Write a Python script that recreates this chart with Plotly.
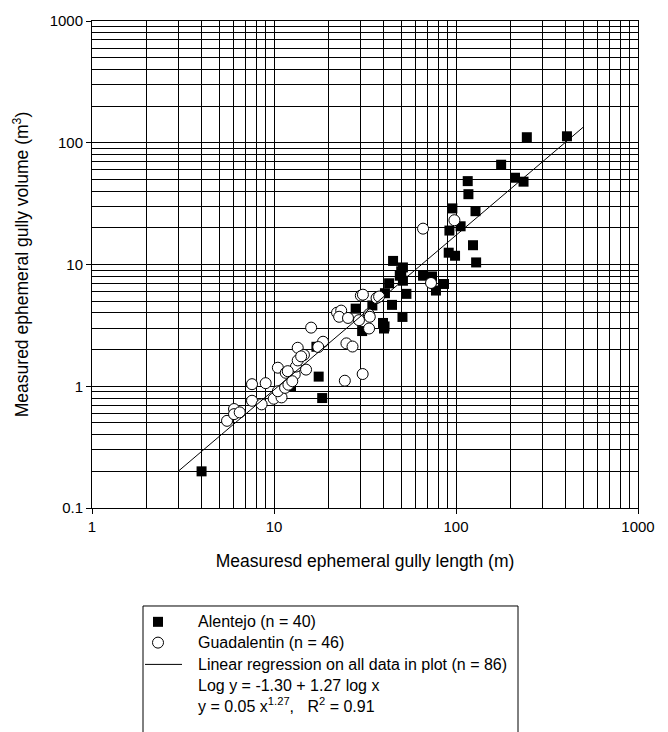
import numpy as np
import plotly.graph_objects as go

# Alentejo (n = 40): gully length (m), gully volume (m3)
ale_len = [4.0, 17.1, 17.6, 18.4, 12.4, 28.1, 30.5, 34.7, 39.7, 40.2,
           40.5, 40.7, 42.9, 44.5, 45.1, 49.1, 50.0, 50.8, 51.1, 51.1,
           53.4, 65.9, 73.8, 77.6, 85.9, 91.2, 92.0, 95.5, 98.8, 106,
           116, 117, 124, 128, 129, 177, 211, 235, 245, 407]
ale_vol = [0.20, 2.11, 1.20, 0.80, 1.00, 4.34, 2.84, 4.61, 3.31, 2.98,
           3.10, 5.81, 7.01, 4.66, 10.7, 8.09, 8.80, 3.71, 9.46, 7.36,
           5.74, 8.09, 7.98, 6.11, 6.92, 12.5, 19.0, 28.9, 11.8, 20.6,
           48.4, 37.8, 14.4, 27.4, 10.4, 66, 51.6, 47.9, 111, 113]

# Guadalentin (n = 46)
gua_len = [5.52, 6.03, 6.03, 6.48, 7.57, 7.57, 8.55, 9.0, 9.96, 11.0,
           10.5, 11.5, 12.0, 10.5, 11.6, 13.0, 13.2, 13.5, 13.5, 14.6,
           15.0, 16.0, 18.6, 17.5, 22.2, 23.4, 22.8, 25.5, 29.3, 33.2,
           33.6, 33.3, 30.0, 30.8, 36.6, 37.8, 25.0, 27.0, 30.7, 24.5,
           72.9, 65.9, 98.0, 11.9, 14.1, 12.6]
gua_vol = [0.52, 0.65, 0.59, 0.61, 1.04, 0.76, 0.71, 1.06, 0.79, 0.81,
           0.91, 0.97, 1.03, 1.42, 1.29, 1.25, 1.45, 1.63, 2.07, 1.81,
           1.37, 3.03, 2.32, 2.10, 4.02, 4.18, 3.72, 3.64, 3.49, 3.90,
           3.72, 2.98, 5.55, 5.65, 5.30, 5.45, 2.25, 2.12, 1.26, 1.11,
           7.05, 19.7, 23.1, 1.33, 1.76, 1.10]

# Regression: log y = -1.30 + 1.27 log x, drawn over x = 3 .. 500
reg_a = -1.30
reg_b = 1.27
reg_x = [3, 500]
reg_y = [10 ** (reg_a + reg_b * np.log10(v)) for v in reg_x]

x_ticks = [1, 10, 100, 1000]
x_tick_text = ["1", "10", "100", "1000"]
y_ticks = [0.1, 1, 10, 100, 1000]
y_tick_text = ["0.1", "1", "10", "100", "1000"]

legend_lines = [
    "Alentejo (n = 40)",
    "Guadalentin (n = 46)",
    "Linear regression on all data in plot (n = 86)",
    "Log y = -1.30 + 1.27 log x",
    "y = 0.05 x<sup>1.27</sup>,   R<sup>2</sup> = 0.91",
]

FONT = "Liberation Sans, Arial, sans-serif"

minor_x = [m * d for d in (1, 10, 100) for m in range(2, 10)]
minor_y = [m * d for d in (0.1, 1, 10, 100) for m in range(2, 10)]

fig = go.Figure()
fig.add_trace(go.Scatter(
    x=ale_len, y=ale_vol, mode="markers", name="Alentejo",
    marker=dict(symbol="square", size=10, color="black",
                line=dict(color="black", width=0)),
    showlegend=False))
fig.add_trace(go.Scatter(
    x=gua_len, y=gua_vol, mode="markers", name="Guadalentin",
    marker=dict(symbol="circle", size=11, color="white",
                line=dict(color="black", width=1)),
    showlegend=False))
fig.add_trace(go.Scatter(
    x=reg_x, y=reg_y, mode="lines", name="Regression",
    line=dict(color="black", width=1), showlegend=False))

W, H = 668, 732
L, R, T, B = 92, 30, 16, 224
pw, ph = W - L - R, H - T - B


def px(xp):
    return (xp - L) / pw


def py(yp):
    return (H - B - yp) / ph


axis_common = dict(
    type="log", showline=True, linecolor="black", linewidth=1, mirror=True,
    ticks="outside", ticklen=5, tickcolor="black", tickwidth=1,
    showgrid=True, gridcolor="black", gridwidth=1, zeroline=False,
    tickfont=dict(family=FONT, size=15, color="black"),
)

fig.update_layout(
    width=W, height=H,
    margin=dict(l=L, r=R, t=T, b=B),
    paper_bgcolor="white", plot_bgcolor="white",
    xaxis=dict(
        range=[0, 3], tickvals=x_ticks, ticktext=x_tick_text,
        minor=dict(tickvals=minor_x, showgrid=True, gridcolor="black",
                   gridwidth=1, ticks=""),
        title=dict(text="Measuresd ephemeral gully length (m)",
                   font=dict(family=FONT, size=17.5, color="black"),
                   standoff=20),
        **axis_common),
    yaxis=dict(
        range=[-1, 3], tickvals=y_ticks, ticktext=y_tick_text,
        minor=dict(tickvals=minor_y, showgrid=True, gridcolor="black",
                   gridwidth=1, ticks=""),
        title=dict(text="Measured ephemeral gully volume (m<sup>3</sup>)",
                   font=dict(family=FONT, size=17.5, color="black"),
                   standoff=16),
        **axis_common),
    showlegend=False,
)

shapes = []
# legend box (bottom edge falls outside the picture)
shapes.append(dict(type="rect", xref="paper", yref="paper",
                   x0=px(143), x1=px(518), y0=py(607), y1=py(800),
                   line=dict(color="black", width=1), fillcolor="rgba(0,0,0,0)"))
# legend sample symbols
shapes.append(dict(type="rect", xref="paper", yref="paper",
                   xsizemode="pixel", ysizemode="pixel",
                   xanchor=px(158), yanchor=py(623),
                   x0=-5, x1=5, y0=-5, y1=5,
                   line=dict(color="black", width=0), fillcolor="black"))
shapes.append(dict(type="circle", xref="paper", yref="paper",
                   xsizemode="pixel", ysizemode="pixel",
                   xanchor=px(158), yanchor=py(644),
                   x0=-5.5, x1=5.5, y0=-5.5, y1=5.5,
                   line=dict(color="black", width=1), fillcolor="white"))
shapes.append(dict(type="line", xref="paper", yref="paper",
                   x0=px(145), x1=px(182), y0=py(666), y1=py(666),
                   line=dict(color="black", width=1)))
fig.update_layout(shapes=shapes)

line_y = [623, 644, 666, 687, 707]
for txt, yy in zip(legend_lines, line_y):
    fig.add_annotation(text=txt, xref="paper", yref="paper",
                       x=px(196), y=py(yy), xanchor="left", yanchor="middle",
                       showarrow=False,
                       font=dict(family=FONT, size=16, color="black"))

fig.write_html("out.html",
               config={"displayModeBar": False},
               post_script="document.body.style.margin='0';"
                           "document.body.style.overflow='hidden';")
